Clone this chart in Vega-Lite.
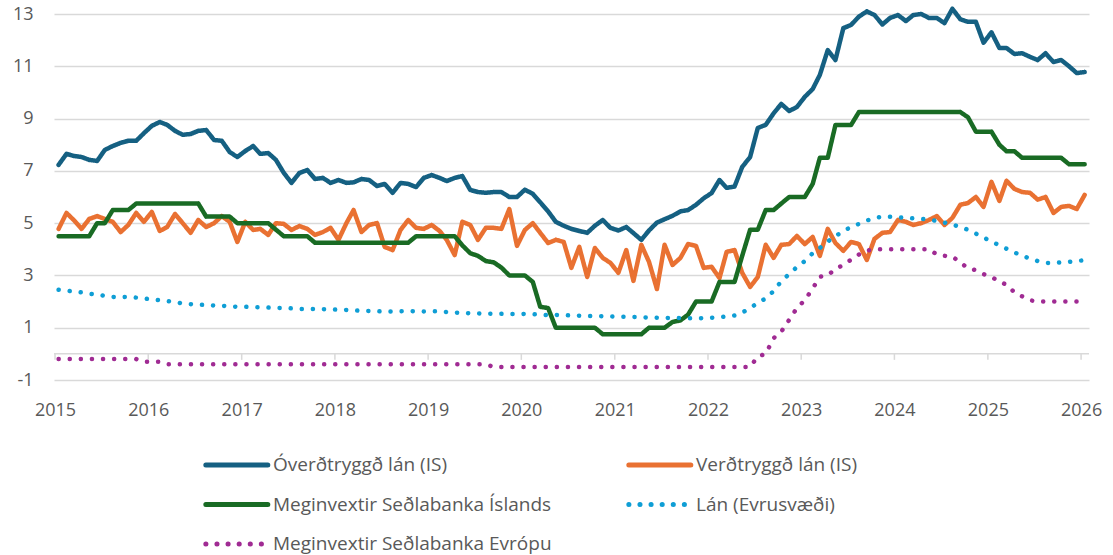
{
  "$schema": "https://vega.github.io/schema/vega-lite/v6.json",
  "width": 1035,
  "height": 366,
  "autosize": {"type": "none"},
  "padding": {"left": 54, "top": 14, "right": 24, "bottom": 175},
  "background": "white",
  "config": {
    "view": {"stroke": null},
    "font": "Open Sans",
    "axis": {"labelColor": "#595959", "labelFontSize": 18, "labelFont": "Open Sans"},
    "legend": {"labelFont": "Open Sans"}
  },
  "datasets": {
    "names": [
      {"k": "a", "series": "Óverðtryggð lán (IS)"},
      {"k": "b", "series": "Verðtryggð lán (IS)"},
      {"k": "c", "series": "Meginvextir Seðlabanka Íslands"},
      {"k": "e", "series": "Lán (Evrusvæði)"},
      {"k": "f", "series": "Meginvextir Seðlabanka Evrópu"}
    ],
    "ticks": [
      {"d": "2015-01-01"}, {"d": "2016-01-01"}, {"d": "2017-01-01"}, {"d": "2018-01-01"},
      {"d": "2019-01-01"}, {"d": "2020-01-01"}, {"d": "2021-01-01"}, {"d": "2022-01-01"},
      {"d": "2023-01-01"}, {"d": "2024-01-01"}, {"d": "2025-01-01"}, {"d": "2026-01-01"}
    ],
    "rates": [
      {"d":"2015-01-15","a":7.23,"b":4.78,"c":4.5,"e":2.45,"f":-0.2},
      {"d":"2015-02-15","a":7.65,"b":5.39,"c":4.5,"e":2.42,"f":-0.2},
      {"d":"2015-03-15","a":7.57,"b":5.12,"c":4.5,"e":2.38,"f":-0.2},
      {"d":"2015-04-15","a":7.53,"b":4.78,"c":4.5,"e":2.35,"f":-0.2},
      {"d":"2015-05-15","a":7.42,"b":5.16,"c":4.5,"e":2.30,"f":-0.2},
      {"d":"2015-06-15","a":7.38,"b":5.27,"c":5.0,"e":2.27,"f":-0.2},
      {"d":"2015-07-15","a":7.8,"b":5.16,"c":5.0,"e":2.22,"f":-0.2},
      {"d":"2015-08-15","a":7.95,"b":5.05,"c":5.5,"e":2.18,"f":-0.2},
      {"d":"2015-09-15","a":8.07,"b":4.66,"c":5.5,"e":2.17,"f":-0.2},
      {"d":"2015-10-15","a":8.15,"b":4.93,"c":5.5,"e":2.18,"f":-0.2},
      {"d":"2015-11-15","a":8.15,"b":5.39,"c":5.75,"e":2.15,"f":-0.2},
      {"d":"2015-12-15","a":8.44,"b":5.05,"c":5.75,"e":2.12,"f":-0.3},
      {"d":"2016-01-15","a":8.72,"b":5.43,"c":5.75,"e":2.08,"f":-0.3},
      {"d":"2016-02-15","a":8.87,"b":4.7,"c":5.75,"e":2.05,"f":-0.3},
      {"d":"2016-03-15","a":8.76,"b":4.85,"c":5.75,"e":2.02,"f":-0.4},
      {"d":"2016-04-15","a":8.53,"b":5.35,"c":5.75,"e":1.98,"f":-0.4},
      {"d":"2016-05-15","a":8.38,"b":5.0,"c":5.75,"e":1.93,"f":-0.4},
      {"d":"2016-06-15","a":8.41,"b":4.63,"c":5.75,"e":1.90,"f":-0.4},
      {"d":"2016-07-15","a":8.53,"b":5.12,"c":5.75,"e":1.88,"f":-0.4},
      {"d":"2016-08-15","a":8.56,"b":4.85,"c":5.25,"e":1.87,"f":-0.4},
      {"d":"2016-09-15","a":8.18,"b":5.0,"c":5.25,"e":1.85,"f":-0.4},
      {"d":"2016-10-15","a":8.15,"b":5.27,"c":5.25,"e":1.84,"f":-0.4},
      {"d":"2016-11-15","a":7.72,"b":5.05,"c":5.25,"e":1.82,"f":-0.4},
      {"d":"2016-12-15","a":7.53,"b":4.28,"c":5.0,"e":1.80,"f":-0.4},
      {"d":"2017-01-15","a":7.76,"b":5.05,"c":5.0,"e":1.80,"f":-0.4},
      {"d":"2017-02-15","a":7.95,"b":4.74,"c":5.0,"e":1.79,"f":-0.4},
      {"d":"2017-03-15","a":7.65,"b":4.78,"c":5.0,"e":1.78,"f":-0.4},
      {"d":"2017-04-15","a":7.68,"b":4.55,"c":5.0,"e":1.77,"f":-0.4},
      {"d":"2017-05-15","a":7.42,"b":5.0,"c":4.75,"e":1.76,"f":-0.4},
      {"d":"2017-06-15","a":6.92,"b":4.97,"c":4.5,"e":1.75,"f":-0.4},
      {"d":"2017-07-15","a":6.54,"b":4.74,"c":4.5,"e":1.74,"f":-0.4},
      {"d":"2017-08-15","a":6.92,"b":4.89,"c":4.5,"e":1.72,"f":-0.4},
      {"d":"2017-09-15","a":7.03,"b":4.78,"c":4.5,"e":1.72,"f":-0.4},
      {"d":"2017-10-15","a":6.69,"b":4.55,"c":4.25,"e":1.72,"f":-0.4},
      {"d":"2017-11-15","a":6.73,"b":4.66,"c":4.25,"e":1.71,"f":-0.4},
      {"d":"2017-12-15","a":6.54,"b":4.82,"c":4.25,"e":1.70,"f":-0.4},
      {"d":"2018-01-15","a":6.65,"b":4.36,"c":4.25,"e":1.69,"f":-0.4},
      {"d":"2018-02-15","a":6.54,"b":5.0,"c":4.25,"e":1.68,"f":-0.4},
      {"d":"2018-03-15","a":6.56,"b":5.5,"c":4.25,"e":1.66,"f":-0.4},
      {"d":"2018-04-15","a":6.69,"b":4.66,"c":4.25,"e":1.65,"f":-0.4},
      {"d":"2018-05-15","a":6.65,"b":4.93,"c":4.25,"e":1.64,"f":-0.4},
      {"d":"2018-06-15","a":6.42,"b":5.0,"c":4.25,"e":1.63,"f":-0.4},
      {"d":"2018-07-15","a":6.5,"b":4.09,"c":4.25,"e":1.62,"f":-0.4},
      {"d":"2018-08-15","a":6.16,"b":3.97,"c":4.25,"e":1.62,"f":-0.4},
      {"d":"2018-09-15","a":6.54,"b":4.74,"c":4.25,"e":1.63,"f":-0.4},
      {"d":"2018-10-15","a":6.5,"b":5.12,"c":4.25,"e":1.64,"f":-0.4},
      {"d":"2018-11-15","a":6.38,"b":4.82,"c":4.5,"e":1.63,"f":-0.4},
      {"d":"2018-12-15","a":6.73,"b":4.78,"c":4.5,"e":1.62,"f":-0.4},
      {"d":"2019-01-15","a":6.84,"b":4.93,"c":4.5,"e":1.63,"f":-0.4},
      {"d":"2019-02-15","a":6.73,"b":4.7,"c":4.5,"e":1.63,"f":-0.4},
      {"d":"2019-03-15","a":6.61,"b":4.36,"c":4.5,"e":1.60,"f":-0.4},
      {"d":"2019-04-15","a":6.73,"b":3.78,"c":4.5,"e":1.58,"f":-0.4},
      {"d":"2019-05-15","a":6.8,"b":5.05,"c":4.15,"e":1.57,"f":-0.4},
      {"d":"2019-06-15","a":6.27,"b":4.93,"c":3.85,"e":1.55,"f":-0.4},
      {"d":"2019-07-15","a":6.19,"b":4.36,"c":3.75,"e":1.55,"f":-0.4},
      {"d":"2019-08-15","a":6.16,"b":4.82,"c":3.55,"e":1.54,"f":-0.4},
      {"d":"2019-09-15","a":6.19,"b":4.82,"c":3.5,"e":1.53,"f":-0.5},
      {"d":"2019-10-15","a":6.19,"b":4.78,"c":3.3,"e":1.53,"f":-0.5},
      {"d":"2019-11-15","a":6.0,"b":5.54,"c":3.0,"e":1.52,"f":-0.5},
      {"d":"2019-12-15","a":6.0,"b":4.13,"c":3.0,"e":1.52,"f":-0.5},
      {"d":"2020-01-15","a":6.28,"b":4.74,"c":3.0,"e":1.53,"f":-0.5},
      {"d":"2020-02-15","a":6.12,"b":5.0,"c":2.75,"e":1.52,"f":-0.5},
      {"d":"2020-03-15","a":5.8,"b":4.63,"c":1.8,"e":1.50,"f":-0.5},
      {"d":"2020-04-15","a":5.45,"b":4.24,"c":1.75,"e":1.48,"f":-0.5},
      {"d":"2020-05-15","a":5.05,"b":4.36,"c":1.0,"e":1.49,"f":-0.5},
      {"d":"2020-06-15","a":4.9,"b":4.28,"c":1.0,"e":1.48,"f":-0.5},
      {"d":"2020-07-15","a":4.78,"b":3.29,"c":1.0,"e":1.47,"f":-0.5},
      {"d":"2020-08-15","a":4.7,"b":4.09,"c":1.0,"e":1.46,"f":-0.5},
      {"d":"2020-09-15","a":4.63,"b":2.94,"c":1.0,"e":1.45,"f":-0.5},
      {"d":"2020-10-15","a":4.9,"b":4.05,"c":1.0,"e":1.45,"f":-0.5},
      {"d":"2020-11-15","a":5.12,"b":3.67,"c":0.75,"e":1.44,"f":-0.5},
      {"d":"2020-12-15","a":4.82,"b":3.48,"c":0.75,"e":1.43,"f":-0.5},
      {"d":"2021-01-15","a":4.72,"b":3.1,"c":0.75,"e":1.42,"f":-0.5},
      {"d":"2021-02-15","a":4.85,"b":3.97,"c":0.75,"e":1.42,"f":-0.5},
      {"d":"2021-03-15","a":4.62,"b":2.79,"c":0.75,"e":1.41,"f":-0.5},
      {"d":"2021-04-15","a":4.36,"b":4.17,"c":0.75,"e":1.40,"f":-0.5},
      {"d":"2021-05-15","a":4.72,"b":3.52,"c":1.0,"e":1.39,"f":-0.5},
      {"d":"2021-06-15","a":5.02,"b":2.48,"c":1.0,"e":1.38,"f":-0.5},
      {"d":"2021-07-15","a":5.15,"b":4.17,"c":1.0,"e":1.38,"f":-0.5},
      {"d":"2021-08-15","a":5.28,"b":3.4,"c":1.22,"e":1.37,"f":-0.5},
      {"d":"2021-09-15","a":5.45,"b":3.67,"c":1.28,"e":1.37,"f":-0.5},
      {"d":"2021-10-15","a":5.5,"b":4.2,"c":1.5,"e":1.36,"f":-0.5},
      {"d":"2021-11-15","a":5.7,"b":4.13,"c":2.0,"e":1.36,"f":-0.5},
      {"d":"2021-12-15","a":5.95,"b":3.29,"c":2.0,"e":1.37,"f":-0.5},
      {"d":"2022-01-15","a":6.15,"b":3.33,"c":2.0,"e":1.38,"f":-0.5},
      {"d":"2022-02-15","a":6.65,"b":2.9,"c":2.75,"e":1.40,"f":-0.5},
      {"d":"2022-03-15","a":6.35,"b":3.9,"c":2.75,"e":1.43,"f":-0.5},
      {"d":"2022-04-15","a":6.4,"b":3.97,"c":2.75,"e":1.47,"f":-0.5},
      {"d":"2022-05-15","a":7.15,"b":3.1,"c":3.75,"e":1.58,"f":-0.5},
      {"d":"2022-06-15","a":7.53,"b":2.56,"c":4.75,"e":1.75,"f":-0.5},
      {"d":"2022-07-15","a":8.64,"b":2.94,"c":4.75,"e":1.95,"f":-0.1},
      {"d":"2022-08-15","a":8.76,"b":4.17,"c":5.5,"e":2.12,"f":0.0},
      {"d":"2022-09-15","a":9.2,"b":3.67,"c":5.5,"e":2.40,"f":0.6},
      {"d":"2022-10-15","a":9.56,"b":4.17,"c":5.75,"e":2.78,"f":0.85},
      {"d":"2022-11-15","a":9.29,"b":4.2,"c":6.0,"e":3.05,"f":1.3},
      {"d":"2022-12-15","a":9.44,"b":4.51,"c":6.0,"e":3.32,"f":1.75},
      {"d":"2023-01-15","a":9.83,"b":4.2,"c":6.0,"e":3.55,"f":2.05},
      {"d":"2023-02-15","a":10.13,"b":4.47,"c":6.5,"e":3.85,"f":2.5},
      {"d":"2023-03-15","a":10.67,"b":3.75,"c":7.5,"e":4.05,"f":2.95},
      {"d":"2023-04-15","a":11.62,"b":4.78,"c":7.5,"e":4.30,"f":3.0},
      {"d":"2023-05-15","a":11.24,"b":4.24,"c":8.75,"e":4.50,"f":3.25},
      {"d":"2023-06-15","a":12.46,"b":3.94,"c":8.75,"e":4.70,"f":3.4},
      {"d":"2023-07-15","a":12.58,"b":4.28,"c":8.75,"e":4.85,"f":3.6},
      {"d":"2023-08-15","a":12.9,"b":4.2,"c":9.25,"e":4.97,"f":3.8},
      {"d":"2023-09-15","a":13.1,"b":3.59,"c":9.25,"e":5.10,"f":3.95},
      {"d":"2023-10-15","a":12.96,"b":4.4,"c":9.25,"e":5.20,"f":4.0},
      {"d":"2023-11-15","a":12.6,"b":4.63,"c":9.25,"e":5.25,"f":4.0},
      {"d":"2023-12-15","a":12.85,"b":4.66,"c":9.25,"e":5.24,"f":4.0},
      {"d":"2024-01-15","a":12.96,"b":5.12,"c":9.25,"e":5.22,"f":4.0},
      {"d":"2024-02-15","a":12.73,"b":5.05,"c":9.25,"e":5.20,"f":4.0},
      {"d":"2024-03-15","a":12.96,"b":4.93,"c":9.25,"e":5.18,"f":4.0},
      {"d":"2024-04-15","a":13.0,"b":5.0,"c":9.25,"e":5.16,"f":4.0},
      {"d":"2024-05-15","a":12.85,"b":5.12,"c":9.25,"e":5.14,"f":4.0},
      {"d":"2024-06-15","a":12.85,"b":5.27,"c":9.25,"e":5.08,"f":3.8},
      {"d":"2024-07-15","a":12.65,"b":4.93,"c":9.25,"e":5.02,"f":3.75},
      {"d":"2024-08-15","a":13.2,"b":5.2,"c":9.25,"e":4.95,"f":3.72},
      {"d":"2024-09-15","a":12.8,"b":5.7,"c":9.25,"e":4.85,"f":3.5},
      {"d":"2024-10-15","a":12.7,"b":5.77,"c":9.05,"e":4.75,"f":3.27},
      {"d":"2024-11-15","a":12.7,"b":6.0,"c":8.5,"e":4.60,"f":3.2},
      {"d":"2024-12-15","a":11.9,"b":5.62,"c":8.5,"e":4.45,"f":3.05},
      {"d":"2025-01-15","a":12.3,"b":6.58,"c":8.5,"e":4.30,"f":2.95},
      {"d":"2025-02-15","a":11.7,"b":5.85,"c":8.0,"e":4.15,"f":2.75},
      {"d":"2025-03-15","a":11.7,"b":6.62,"c":7.75,"e":4.02,"f":2.65},
      {"d":"2025-04-15","a":11.47,"b":6.31,"c":7.75,"e":3.88,"f":2.35},
      {"d":"2025-05-15","a":11.5,"b":6.19,"c":7.5,"e":3.75,"f":2.2},
      {"d":"2025-06-15","a":11.36,"b":6.16,"c":7.5,"e":3.65,"f":2.05},
      {"d":"2025-07-15","a":11.24,"b":5.9,"c":7.5,"e":3.55,"f":2.0},
      {"d":"2025-08-15","a":11.5,"b":6.0,"c":7.5,"e":3.48,"f":2.0},
      {"d":"2025-09-15","a":11.16,"b":5.39,"c":7.5,"e":3.47,"f":2.0},
      {"d":"2025-10-15","a":11.24,"b":5.62,"c":7.5,"e":3.50,"f":2.0},
      {"d":"2025-11-15","a":11.0,"b":5.66,"c":7.25,"e":3.52,"f":2.0},
      {"d":"2025-12-15","a":10.74,"b":5.54,"c":7.25,"e":3.55,"f":2.0},
      {"d":"2026-01-15","a":10.78,"b":6.08,"c":7.25,"e":3.58,"f":2.0}
    ]
  },
  "layer": [
    {
      "data": {"values": [{}]},
      "mark": {"type": "rule", "color": "#D9D9D9", "strokeWidth": 1.5},
      "encoding": {
        "y": {"datum": 0, "type": "quantitative", "scale": {"domain": [-1, 13], "nice": false, "zero": false},
          "axis": {"values": [-1, 1, 3, 5, 7, 9, 11, 13], "title": null, "domain": false, "ticks": false, "grid": true, "gridColor": "#D9D9D9", "gridWidth": 1.5, "labelPadding": 21, "labelExpr": "'' + datum.value"}}
      }
    },
    {
      "data": {"name": "ticks"},
      "mark": {"type": "rule", "color": "#D9D9D9", "strokeWidth": 1.5},
      "encoding": {
        "x": {"field": "d", "type": "temporal",
          "scale": {"type": "utc", "domain": [{"year": 2014, "month": 12, "date": 28, "utc": true}, {"year": 2026, "month": 2, "date": 1, "utc": true}]},
          "axis": {"values": [{"year": 2015, "utc": true}, {"year": 2016, "utc": true}, {"year": 2017, "utc": true}, {"year": 2018, "utc": true}, {"year": 2019, "utc": true}, {"year": 2020, "utc": true}, {"year": 2021, "utc": true}, {"year": 2022, "utc": true}, {"year": 2023, "utc": true}, {"year": 2024, "utc": true}, {"year": 2025, "utc": true}, {"year": 2026, "utc": true}], "format": "%Y", "formatType": "utc", "title": null, "domain": false, "ticks": false, "grid": false, "labelPadding": 21, "labelFlush": false, "labelOverlap": false, "labelDx": 2}},
        "y": {"datum": 0, "type": "quantitative"},
        "y2": {"datum": -0.23}
      }
    },
    {
      "data": {"name": "rates"},
      "transform": [
        {"fold": ["a", "b", "c", "e", "f"], "as": ["k", "value"]},
        {"lookup": "k", "from": {"data": {"name": "names"}, "key": "k", "fields": ["series"]}}
      ],
      "mark": {"type": "line", "strokeWidth": 4.5, "strokeCap": "round", "strokeJoin": "round"},
      "encoding": {
        "x": {"field": "d", "type": "temporal"},
        "y": {"field": "value", "type": "quantitative"},
        "color": {
          "field": "series", "type": "nominal",
          "scale": {
            "domain": ["Óverðtryggð lán (IS)", "Verðtryggð lán (IS)", "Meginvextir Seðlabanka Íslands", "Lán (Evrusvæði)", "Meginvextir Seðlabanka Evrópu"],
            "range": ["#156082", "#E97132", "#196B24", "#0F9ED5", "#A02B93"]
          },
          "legend": {
            "orient": "none", "legendX": 149, "legendY": 437, "columns": 2, "direction": "horizontal", "title": null,
            "symbolType": "M-1,0H4.55", "symbolSize": 499, "symbolStrokeWidth": 5,
            "labelFontSize": 19, "labelColor": "#595959", "labelOffset": 42, "labelLimit": 500,
            "columnPadding": 66, "rowPadding": 15.5, "padding": 0,
            "encode": {"symbols": {"update": {"strokeCap": {"value": "round"}}}}
          }
        },
        "strokeDash": {
          "field": "series", "type": "nominal",
          "scale": {
            "domain": ["Óverðtryggð lán (IS)", "Verðtryggð lán (IS)", "Meginvextir Seðlabanka Íslands", "Lán (Evrusvæði)", "Meginvextir Seðlabanka Evrópu"],
            "range": [[1, 0], [1, 0], [1, 0], [0.1, 11], [0.1, 11]]
          }
        }
      }
    }
  ]
}
